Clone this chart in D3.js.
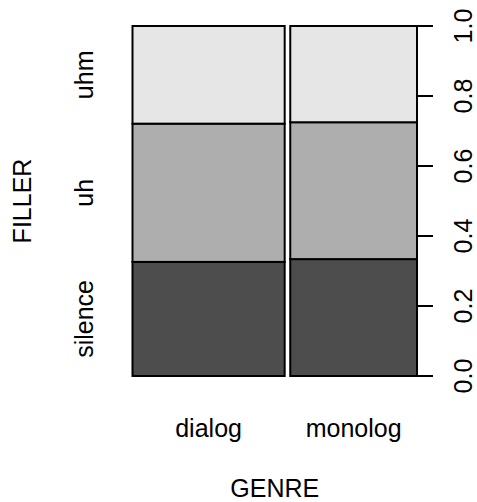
<!DOCTYPE html>
<html>
<head>
<meta charset="utf-8">
<script src="https://cdn.jsdelivr.net/npm/d3@7"></script>
<style>
  body { margin: 0; background: #fff; }
  text { font-family: "Liberation Sans", Arial, Helvetica, sans-serif; fill: #000; }
</style>
</head>
<body>
<svg id="chart" width="477" height="502"></svg>
<script>
// spineplot of FILLER by GENRE
var genres = ["dialog", "monolog"];
var genreShare = [0.5456, 0.4544];          // column widths (share of all cases)
var fillers = ["silence", "uh", "uhm"];
var dialogProps = [0.326, 0.395, 0.279];    // conditional proportions within dialog
var monologProps = [0.334, 0.391, 0.275];   // conditional proportions within monolog
var yTicks = [0, 0.2, 0.4, 0.6, 0.8, 1.0];
var fills = ["#4D4D4D", "#AEAEAE", "#E6E6E6"];

(function() {
    var svg = d3.select("#chart");
    var pLeft = 132.5, pRight = 417, pTop = 26, pBottom = 376;
    var gap = 0.02;   // offset between columns, as in R's spineplot
    var fs = "25px";

    var x = d3.scaleLinear().domain([0, 1 + gap * (genres.length - 1)]).range([pLeft, pRight]);
    var y = d3.scaleLinear().domain([0, 1]).range([pBottom, pTop]);

    var props = [dialogProps, monologProps];
    var cols = [];
    var x0 = 0;
    genres.forEach(function(g, i) {
        var cum = 0;
        props[i].forEach(function(p, j) {
            cols.push({ genre: g, filler: fillers[j], x0: x0, x1: x0 + genreShare[i], y0: cum, y1: cum + p, col: j });
            cum += p;
        });
        x0 += genreShare[i] + gap;
    });

    svg.append("g").selectAll("rect")
        .data(cols)
        .enter().append("rect")
        .attr("x", function(d) { return x(d.x0); })
        .attr("width", function(d) { return x(d.x1) - x(d.x0); })
        .attr("y", function(d) { return y(d.y1); })
        .attr("height", function(d) { return y(d.y0) - y(d.y1); })
        .attr("fill", function(d) { return fills[d.col]; })
        .attr("stroke", "#000")
        .attr("stroke-width", 2);

    // right axis with proportions
    var axis = svg.append("g");
    axis.append("line")
        .attr("x1", pRight).attr("x2", pRight)
        .attr("y1", y(0)).attr("y2", y(1))
        .attr("stroke", "#000").attr("stroke-width", 2);
    axis.selectAll("line.tick")
        .data(yTicks)
        .enter().append("line")
        .attr("class", "tick")
        .attr("x1", pRight).attr("x2", pRight + 16)
        .attr("y1", function(d) { return y(d); })
        .attr("y2", function(d) { return y(d); })
        .attr("stroke", "#000").attr("stroke-width", 2);
    axis.selectAll("text")
        .data(yTicks)
        .enter().append("text")
        .attr("transform", function(d) { return "translate(472," + y(d) + ") rotate(-90)"; })
        .attr("text-anchor", "middle")
        .style("font-size", fs)
        .text(function(d) { return d3.format(".1f")(d); });

    // left labels at the midpoints of the first column
    var firstCol = cols.filter(function(d) { return d.genre === genres[0]; });
    svg.append("g").selectAll("text")
        .data(firstCol)
        .enter().append("text")
        .attr("transform", function(d) { return "translate(93," + y((d.y0 + d.y1) / 2) + ") rotate(-90)"; })
        .attr("text-anchor", "middle")
        .style("font-size", fs)
        .text(function(d) { return d.filler; });

    // column labels
    var xMid = [];
    x0 = 0;
    genreShare.forEach(function(s) { xMid.push(x0 + s / 2); x0 += s + gap; });
    svg.append("g").selectAll("text")
        .data(genres)
        .enter().append("text")
        .attr("x", function(d, i) { return x(xMid[i]); })
        .attr("y", 437)
        .attr("text-anchor", "middle")
        .style("font-size", fs)
        .text(function(d) { return d; });

    // axis titles
    svg.append("text")
        .attr("x", (pLeft + pRight) / 2).attr("y", 497)
        .attr("text-anchor", "middle")
        .style("font-size", fs)
        .text("GENRE");
    svg.append("text")
        .attr("transform", "translate(31," + (pTop + pBottom) / 2 + ") rotate(-90)")
        .attr("text-anchor", "middle")
        .style("font-size", fs)
        .text("FILLER");
})();
</script>
</body>
</html>
